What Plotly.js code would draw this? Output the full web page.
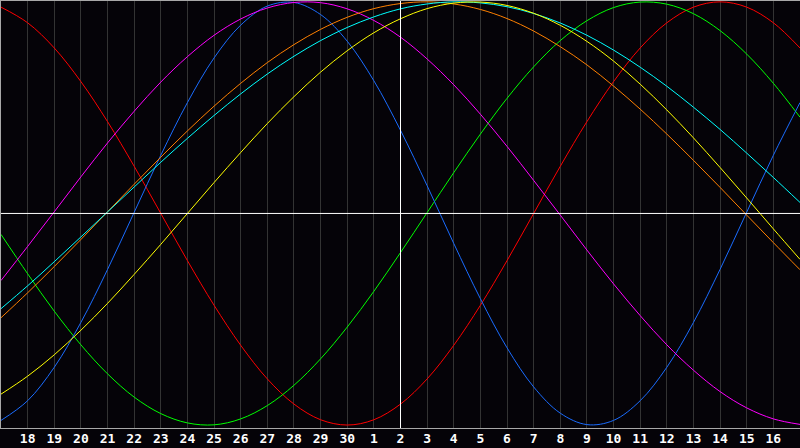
<!DOCTYPE html>
<html>
<head>
<meta charset="utf-8">
<script src="https://cdn.plot.ly/plotly-3.0.1.min.js"></script>
<style>
html,body{margin:0;padding:0;background:#050308;}
#chart{width:800px;height:448px;}
</style>
</head>
<body>
<div id="chart"></div>
<script>
// Day-of-month labels for each day position (first and last are the unlabeled edges)
const days = [17,18,19,20,21,22,23,24,25,26,27,28,29,30,1,2,3,4,5,6,7,8,9,10,11,12,13,14,15,16,17];
const todayIndex = 15;

// Curve values per day (range -1..1)
const red     = [0.975,0.901,0.782,0.623,0.434,0.223,0.000,-0.223,-0.434,-0.623,-0.782,-0.901,-0.975,-1.000,-0.975,-0.901,-0.782,-0.623,-0.434,-0.223,0.000,0.223,0.434,0.623,0.782,0.901,0.975,1.000,0.975,0.901,0.782];
const green   = [-0.099,-0.285,-0.462,-0.621,-0.758,-0.868,-0.946,-0.990,-0.999,-0.971,-0.908,-0.812,-0.687,-0.537,-0.368,-0.185,0.004,0.193,0.375,0.544,0.693,0.817,0.911,0.973,0.999,0.989,0.944,0.864,0.753,0.615,0.455];
const blue    = [-0.978,-0.885,-0.727,-0.515,-0.265,0.005,0.275,0.524,0.735,0.890,0.980,0.997,0.940,0.814,0.627,0.393,0.131,-0.142,-0.403,-0.635,-0.820,-0.944,-0.998,-0.978,-0.885,-0.727,-0.515,-0.264,0.006,0.275,0.524];
const magenta = [-0.317,-0.156,0.008,0.173,0.333,0.483,0.621,0.741,0.842,0.919,0.971,0.997,0.996,0.967,0.912,0.833,0.730,0.608,0.469,0.317,0.156,-0.008,-0.173,-0.333,-0.483,-0.621,-0.741,-0.842,-0.919,-0.971,-0.997];
const cyan    = [-0.450,-0.342,-0.228,-0.111,0.007,0.125,0.242,0.355,0.463,0.565,0.659,0.743,0.817,0.879,0.929,0.967,0.990,1.000,0.995,0.977,0.945,0.900,0.842,0.772,0.691,0.601,0.502,0.397,0.285,0.170,0.052];
const orange  = [-0.493,-0.375,-0.251,-0.123,0.008,0.138,0.266,0.390,0.507,0.615,0.713,0.798,0.870,0.927,0.968,0.992,1.000,0.990,0.964,0.921,0.862,0.788,0.702,0.602,0.493,0.375,0.251,0.123,-0.008,-0.138,-0.266];
const yellow  = [-0.854,-0.769,-0.668,-0.552,-0.425,-0.288,-0.146,0.000,0.146,0.288,0.425,0.552,0.668,0.769,0.854,0.920,0.968,0.994,0.999,0.983,0.946,0.889,0.813,0.720,0.611,0.489,0.357,0.217,0.073,-0.073,-0.217];

const seriesNames  = ['red','green','blue','magenta','orange','cyan','yellow'];
const seriesValues = [red, green, blue, magenta, orange, cyan, yellow];
const seriesColors = ['#ff0000','#00ff00','#1a6cff','#ff00ff','#ff8000','#00ffff','#ffff00'];

const xs = days.map((d, i) => i);
const tickVals = xs.slice(1, -1);
const tickText = days.slice(1, -1).map(String);

const traces = seriesValues.map((vals, k) => ({
  x: xs,
  y: vals,
  type: 'scatter',
  mode: 'lines',
  name: seriesNames[k],
  line: {color: seriesColors[k], width: 1, shape: 'spline', smoothing: 1},
  hoverinfo: 'skip'
}));

const layout = {
  width: 800,
  height: 448,
  margin: {l: 1, r: 0, t: 1, b: 20, pad: 0},
  paper_bgcolor: '#050308',
  plot_bgcolor: '#050308',
  showlegend: false,
  xaxis: {
    range: [0, xs.length - 1],
    tickvals: tickVals,
    ticktext: tickText,
    ticks: '',
    ticklabelstandoff: -2,
    showgrid: true,
    gridcolor: '#333333',
    gridwidth: 1,
    zeroline: false,
    showline: true,
    linecolor: '#a8a8a8',
    linewidth: 1,
    mirror: true,
    tickfont: {family: 'DejaVu Sans Mono, monospace', size: 13, color: '#ffffff', weight: 'bold'},
    fixedrange: true
  },
  yaxis: {
    range: [-1.014, 1.004],
    showticklabels: false,
    ticks: '',
    showgrid: false,
    zeroline: false,
    showline: true,
    linecolor: '#a8a8a8',
    linewidth: 1,
    fixedrange: true
  },
  shapes: [
    {type: 'line', xref: 'x', yref: 'paper', x0: todayIndex, x1: todayIndex, y0: 0, y1: 1,
     line: {color: '#ffffff', width: 1}, layer: 'above'},
    {type: 'line', xref: 'paper', yref: 'y', x0: 0, x1: 1, y0: 0, y1: 0,
     line: {color: '#ffffff', width: 1}, layer: 'above'}
  ]
};

Plotly.newPlot('chart', traces, layout, {staticPlot: true, displayModeBar: false});
</script>
</body>
</html>
